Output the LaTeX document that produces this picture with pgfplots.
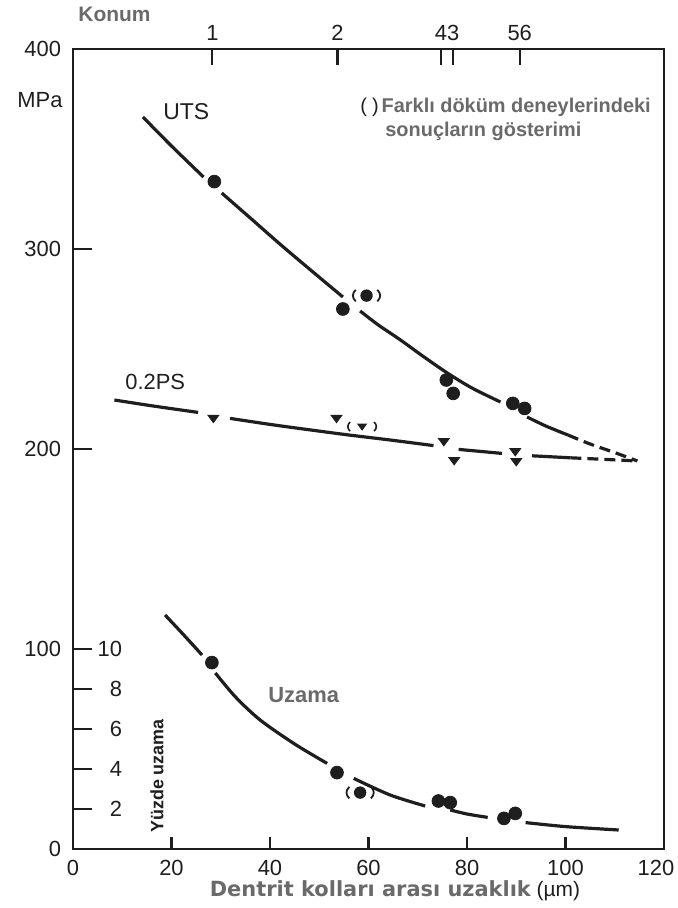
\documentclass[border=0pt]{standalone}
\usepackage{pgfplots}
\pgfplotsset{compat=1.18}
\usepackage{fontspec}
\setmainfont{Liberation Sans}
\newfontfamily\wide{DejaVu Sans}
\definecolor{ink}{HTML}{1E1E1E}
\definecolor{greytxt}{HTML}{6A6A6A}
% filled dot in brackets
\pgfdeclareplotmark{pdot}{%
  \pgfpathcircle{\pgfpointorigin}{3.1bp}\pgfusepathqfill
  \pgfsetlinewidth{0.9bp}%
  \pgfpathmoveto{\pgfpoint{-5.4bp}{2.9bp}}%
  \pgfpathcurveto{\pgfpoint{-7.3bp}{1bp}}{\pgfpoint{-7.3bp}{-1bp}}{\pgfpoint{-5.4bp}{-2.9bp}}%
  \pgfpathmoveto{\pgfpoint{5.4bp}{2.9bp}}%
  \pgfpathcurveto{\pgfpoint{7.3bp}{1bp}}{\pgfpoint{7.3bp}{-1bp}}{\pgfpoint{5.4bp}{-2.9bp}}%
  \pgfusepathqstroke}
% down triangle
\pgfdeclareplotmark{vtri}{%
  \pgfpathmoveto{\pgfpoint{0bp}{-2.5bp}}%
  \pgfpathlineto{\pgfpoint{3.1bp}{1.7bp}}%
  \pgfpathlineto{\pgfpoint{-3.1bp}{1.7bp}}%
  \pgfpathclose\pgfusepathqfill}
% down triangle in brackets
\pgfdeclareplotmark{ptri}{%
  \pgfpathmoveto{\pgfpoint{0bp}{-2.1bp}}%
  \pgfpathlineto{\pgfpoint{2.6bp}{1.5bp}}%
  \pgfpathlineto{\pgfpoint{-2.6bp}{1.5bp}}%
  \pgfpathclose\pgfusepathqfill
  \pgfsetlinewidth{0.8bp}%
  \pgfpathmoveto{\pgfpoint{-6bp}{2.3bp}}%
  \pgfpathcurveto{\pgfpoint{-7.5bp}{0.8bp}}{\pgfpoint{-7.5bp}{-0.8bp}}{\pgfpoint{-6bp}{-2.3bp}}%
  \pgfpathmoveto{\pgfpoint{6bp}{2.3bp}}%
  \pgfpathcurveto{\pgfpoint{7.5bp}{0.8bp}}{\pgfpoint{7.5bp}{-0.8bp}}{\pgfpoint{6bp}{-2.3bp}}%
  \pgfusepathqstroke}
\begin{document}
\begin{tikzpicture}
\pgfplotsset{
  base/.style={scale only axis, width=295.5bp, height=400bp,
    xmin=0, xmax=120, ymin=0, ymax=400, at={(0,0)}, anchor=south west,
    axis line style={ink, line width=1.2bp},
    tick style={ink, line width=1.1bp},
    ticklabel style={font=\fontsize{11}{13}\selectfont, text=ink},
    /pgf/number format/assume math mode=true, tick align=inside,
    clip=false},
  curve/.style={ink, line width=1.6bp, no markers, smooth},
  dcurve/.style={ink, line width=1.6bp, no markers, smooth, dash pattern=on 5.5bp off 3bp},
}
\begin{axis}[base, ytick={0,100,...,400}, ytick pos=left, xtick=\empty,
  major tick length=9.5bp, yticklabel style={xshift=-2.5bp},
  extra y ticks={20,40,60,80,100}, extra y tick labels={2,4,6,8,10},
  extra y tick style={yticklabel style={anchor=east, xshift=30.5bp}}]
% UTS curve
\addplot[curve] coordinates {(14.2,366) (20,351.5) (26.5,336)};
\addplot[curve] coordinates {(30.2,328) (36,315.5) (42,302.5) (48,290) (54.8,276)};
\addplot[curve] coordinates {(58.3,269) (62,262) (66.5,254.5) (71,246.5) (76,238) (81,230.5) (86.8,223.5)};
\addplot[curve] coordinates {(92.2,216) (96,211.5) (100.5,207)};
\addplot[dcurve] coordinates {(100.5,207) (105,202.5) (110,198.2) (114.6,194)};
% 0.2PS curve
\addplot[curve] coordinates {(8.4,224.5) (16,221.6) (25.4,218.3)};
\addplot[curve] coordinates {(31.9,215.3) (40,212.3) (48,209.6) (56,207) (64.4,204.5) (73.2,201.7)};
\addplot[curve] coordinates {(78.3,199.8) (87.1,197.8)};
\addplot[curve] coordinates {(93.2,196.6) (101,195.6)};
\addplot[dcurve] coordinates {(101,195.6) (108,194.8) (114.6,194)};
% Elongation curve (10 % = 100)
\addplot[curve] coordinates {(18.7,117) (22.5,107) (26.2,97)};
\addplot[curve] coordinates {(28.9,88) (33,76) (38,64.5) (45,52.5) (51.6,42.8)};
\addplot[curve] coordinates {(57,35.3) (64.4,27) (71.5,21.5)};
\addplot[curve] coordinates {(76.6,19.5) (80,17.5) (84.2,15.8)};
\addplot[curve] coordinates {(91.9,13.2) (100,11.2) (110.8,9.5)};
% markers
\addplot[only marks, mark=*, mark size=3.2bp, ink] coordinates {(28.7,333.7) (54.8,270) (75.8,234.5) (77.2,227.8) (89.3,222.8) (91.7,220.3)};
\addplot[only marks, mark=pdot, ink] coordinates {(59.6,276.7)};
\addplot[only marks, mark=vtri, ink] coordinates {(28.5,215.3) (53.5,215.3) (75.3,203.7) (77.4,194.2) (89.8,198.7) (90,193.7)};
\addplot[only marks, mark=ptri, ink] coordinates {(58.7,211.2)};
\addplot[only marks, mark=*, mark size=3.2bp, ink] coordinates {(28.2,93.2) (53.6,38.2) (74.2,24) (76.6,23.2) (87.5,15.3) (89.8,17.8)};
\addplot[only marks, mark=pdot, ink] coordinates {(58.3,28.2)};
\end{axis}
% bottom x ticks
\begin{axis}[base, ytick=\empty, xtick={0,20,...,120}, xtick pos=bottom,
  xticklabels={0,20,40,60,80,100,\hspace*{-8bp}120},
  major tick length=6bp, xticklabel style={yshift=-2bp}]
\end{axis}
% top Konum ticks
\begin{axis}[base, ytick=\empty, xtick={28.3,53.7,74.7,77.2,90.7},
  xticklabels={1,2,4,3,56}, xtick pos=top, xticklabel pos=top,
  major tick length=8bp, xticklabel style={yshift=0.5bp}]
\end{axis}
% texts
\node[anchor=west, inner sep=0pt, font=\fontsize{10.5}{12}\selectfont\bfseries, text=greytxt] at (2.5bp,417.5bp) {Konum};
\node[font=\fontsize{11}{13}\selectfont, text=ink] at (-16.5bp,374.5bp) {MPa};
\node[anchor=west, inner sep=0pt, font=\fontsize{11.5}{13}\selectfont, text=ink] at (45bp,368.5bp) {UTS};
\node[anchor=west, inner sep=0pt, font=\fontsize{11}{13}\selectfont, text=ink] at (26bp,233.3bp) {0.2PS};
\node[anchor=west, font=\fontsize{10}{12}\selectfont, inner sep=0pt] at (143.5bp,371bp)
  {\textcolor{ink}{(\hspace{2.5bp})}\hspace{1.5bp}\textcolor{greytxt}{\bfseries Farklı döküm deneylerindeki}};
\node[anchor=west, font=\fontsize{10}{12}\selectfont\bfseries, text=greytxt, inner sep=0pt] at (156bp,358.7bp) {sonuçların gösterimi};
\node[anchor=west, font=\fontsize{11}{13}\selectfont\bfseries, text=greytxt, inner sep=0pt] at (97.5bp,77bp) {Uzama};
\node[rotate=90, font=\fontsize{9}{10}\selectfont\bfseries, text=ink] at (42bp,36.5bp) {Yüzde uzama};
\node[font=\fontsize{10.5}{12}\selectfont, inner sep=0pt] at (161bp,-21bp)
  {\textcolor{greytxt}{\wide\bfseries Dentrit kolları arası uzaklık} \textcolor{ink}{(µm)}};
\pgfresetboundingbox
\path[use as bounding box] (-36.5bp,-29.5bp) rectangle (302.5bp,424.5bp);
\end{tikzpicture}
\end{document}
